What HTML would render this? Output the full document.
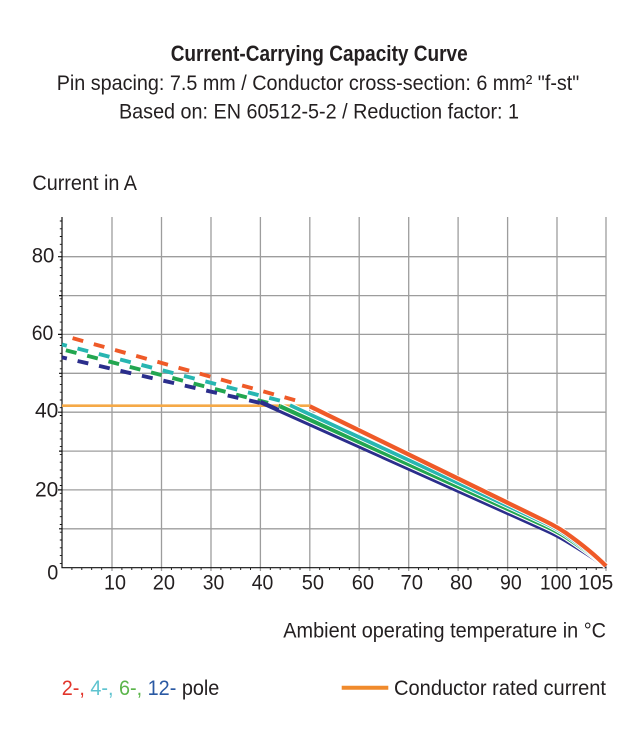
<!DOCTYPE html>
<html><head><meta charset="utf-8"><style>
html,body{margin:0;padding:0;background:#fff;}
svg{display:block;}
text{font-family:"Liberation Sans Narrow","Liberation Sans",sans-serif;fill:#231f20;}
</style></head><body>
<svg width="636" height="746" viewBox="0 0 636 746" xmlns="http://www.w3.org/2000/svg">
<rect width="636" height="746" fill="#fff"/>
<text x="170.7" y="61" font-size="22" font-weight="bold" textLength="297" lengthAdjust="spacingAndGlyphs">Current-Carrying Capacity Curve</text>
<text x="56.7" y="90" font-size="21" textLength="522.6" lengthAdjust="spacingAndGlyphs">Pin spacing: 7.5 mm / Conductor cross-section: 6 mm² "f-st"</text>
<text x="119" y="118.3" font-size="21" textLength="400" lengthAdjust="spacingAndGlyphs">Based on: EN 60512-5-2 / Reduction factor: 1</text>
<text x="32.4" y="190" font-size="21" textLength="104.6" lengthAdjust="spacingAndGlyphs">Current in A</text>
<g stroke="#9d9d9d" stroke-width="1.3" fill="none">
<path d="M112 217V571M161.5 217V571M211 217V571M260.4 217V571M309.8 217V571M359.2 217V571M408.7 217V571M458.1 217V571M507.6 217V571M557 217V571M606 217V571"/>
<path d="M62 256.7H606M62 295.6H606M62 334.4H606M62 373.3H606M62 412.2H606M62 451.1H606M62 489.9H606M62 528.8H606"/>
</g>
<g stroke="#111" stroke-width="1.2" fill="none">
<path d="M62 217V568.3M61.5 567.7H606.5"/>
<path d="M58 256.7H62M58 334.4H62M58 412.2H62M58 489.9H62M59 295.6H62M59 373.3H62M59 451.1H62M59 528.8H62"/>
</g>
<g stroke="#111" stroke-width="0.9" fill="none">
<path d="M59.8 221H62M59.8 228.8H62M59.8 236.5H62M59.8 244.3H62M59.8 252.1H62M59.8 259.9H62M59.8 267.7H62M59.8 275.4H62M59.8 283.2H62M59.8 291H62M59.8 298.8H62M59.8 306.6H62M59.8 314.4H62M59.8 322.1H62M59.8 329.9H62M59.8 337.7H62M59.8 345.5H62M59.8 353.3H62M59.8 361H62M59.8 368.8H62M59.8 376.6H62M59.8 384.4H62M59.8 392.2H62M59.8 400H62M59.8 407.7H62M59.8 415.5H62M59.8 423.3H62M59.8 431.1H62M59.8 438.9H62M59.8 446.6H62M59.8 454.4H62M59.8 462.2H62M59.8 470H62M59.8 477.8H62M59.8 485.5H62M59.8 493.3H62M59.8 501.1H62M59.8 508.9H62M59.8 516.7H62M59.8 524.5H62M59.8 532.2H62M59.8 540H62M59.8 547.8H62M59.8 555.6H62M59.8 563.4H62"/>
<path d="M71.9 567.7V570M81.8 567.7V570M91.7 567.7V570M101.7 567.7V570M121.9 567.7V570M131.8 567.7V570M141.7 567.7V570M151.6 567.7V570M171.4 567.7V570M181.3 567.7V570M191.2 567.7V570M201.1 567.7V570M220.9 567.7V570M230.8 567.7V570M240.7 567.7V570M250.5 567.7V570M270.3 567.7V570M280.2 567.7V570M290.1 567.7V570M300 567.7V570M319.7 567.7V570M329.6 567.7V570M339.5 567.7V570M349.3 567.7V570M369.1 567.7V570M379 567.7V570M388.9 567.7V570M398.8 567.7V570M418.6 567.7V570M428.5 567.7V570M438.4 567.7V570M448.2 567.7V570M468 567.7V570M477.9 567.7V570M487.8 567.7V570M497.7 567.7V570M517.5 567.7V570M527.4 567.7V570M537.3 567.7V570M547.1 567.7V570M566.8 567.7V570M576.6 567.7V570M586.4 567.7V570M596.2 567.7V570"/>
</g>
<g font-size="21">
<text x="31.7" y="262.3" textLength="22.6" lengthAdjust="spacingAndGlyphs">80</text>
<text x="31.7" y="340" textLength="21.6" lengthAdjust="spacingAndGlyphs">60</text>
<text x="35" y="417.5" textLength="23.3" lengthAdjust="spacingAndGlyphs">40</text>
<text x="35" y="496.7" textLength="23.3" lengthAdjust="spacingAndGlyphs">20</text>
<text x="47.3" y="579.5" textLength="11" lengthAdjust="spacingAndGlyphs">0</text>
<text x="104" y="589.5" textLength="22" lengthAdjust="spacingAndGlyphs">10</text>
<text x="152.7" y="589.5" textLength="22.3" lengthAdjust="spacingAndGlyphs">20</text>
<text x="202.7" y="589.5" textLength="21.6" lengthAdjust="spacingAndGlyphs">30</text>
<text x="251.7" y="589.5" textLength="21.6" lengthAdjust="spacingAndGlyphs">40</text>
<text x="301.7" y="589.5" textLength="22.3" lengthAdjust="spacingAndGlyphs">50</text>
<text x="351.7" y="589.5" textLength="22.3" lengthAdjust="spacingAndGlyphs">60</text>
<text x="400.5" y="589.5" textLength="22.5" lengthAdjust="spacingAndGlyphs">70</text>
<text x="450" y="589.5" textLength="22.6" lengthAdjust="spacingAndGlyphs">80</text>
<text x="500" y="589.5" textLength="21.7" lengthAdjust="spacingAndGlyphs">90</text>
<text x="540" y="589.5" textLength="31.7" lengthAdjust="spacingAndGlyphs">100</text>
<text x="578.3" y="589.5" textLength="35" lengthAdjust="spacingAndGlyphs">105</text>
</g>
<!-- conductor rated current -->
<path d="M62 405.7H311.7" stroke="#f5a947" stroke-width="2.6" fill="none"/>
<!-- dashed -->
<g fill="none" stroke-width="3.9" stroke-dasharray="11 11">
<path d="M62 335.2L305 403" stroke="#ef5a28" stroke-dashoffset="11"/>
<path d="M62 344.5L290 403.2" stroke="#27b6b1" stroke-dashoffset="6"/>
<path d="M62 349.2L280 406" stroke="#22a650" stroke-dashoffset="18"/>
<path d="M62 357.4L260 402.9" stroke="#2b2e8c" stroke-dashoffset="6"/>
</g>
<!-- solid -->
<g fill="none" stroke-linejoin="round">
<path d="M260.4 402L545 529.6Q557 535 566 540.5Q590 555 606 566.5" stroke="#2b2e8c" stroke-width="4.4"/>
<path d="M280.1 406.3L545 525.8Q557 531.2 566 537Q590 553 606 566" stroke="#fff" stroke-width="6.4"/>
<path d="M280.1 406.3L545 525.8Q557 531.2 566 537Q590 553 606 566" stroke="#22a650" stroke-width="4.2"/>
<path d="M290 405.2L545 523.2Q557 528.8 566 535Q590 552 606 566" stroke="#fff" stroke-width="5.6"/>
<path d="M290 405.2L545 523.2Q557 528.8 566 535Q590 552 606 566" stroke="#27b6b1" stroke-width="3.8"/>
<path d="M309.8 406.3L545 521Q557 526.9 566 533Q590 550 606 566" stroke="#fff" stroke-width="6"/>
<path d="M309.8 406.3L545 521Q557 526.9 566 533Q590 550 606 566" stroke="#ef5a28" stroke-width="4.3"/>
</g>
<text x="283.3" y="637.3" font-size="21" textLength="322.7" lengthAdjust="spacingAndGlyphs">Ambient operating temperature in °C</text>
<text x="61.7" y="695" font-size="21" textLength="157.6" lengthAdjust="spacingAndGlyphs"><tspan fill="#e2352b">2-, </tspan><tspan fill="#5ec3cf">4-, </tspan><tspan fill="#5bb54a">6-, </tspan><tspan fill="#2a59a3">12- </tspan><tspan>pole</tspan></text>
<path d="M341.7 687.7H388.3" stroke="#f08a2c" stroke-width="4" fill="none"/>
<text x="394" y="695" font-size="21" textLength="212" lengthAdjust="spacingAndGlyphs">Conductor rated current</text>
</svg>
</body></html>
